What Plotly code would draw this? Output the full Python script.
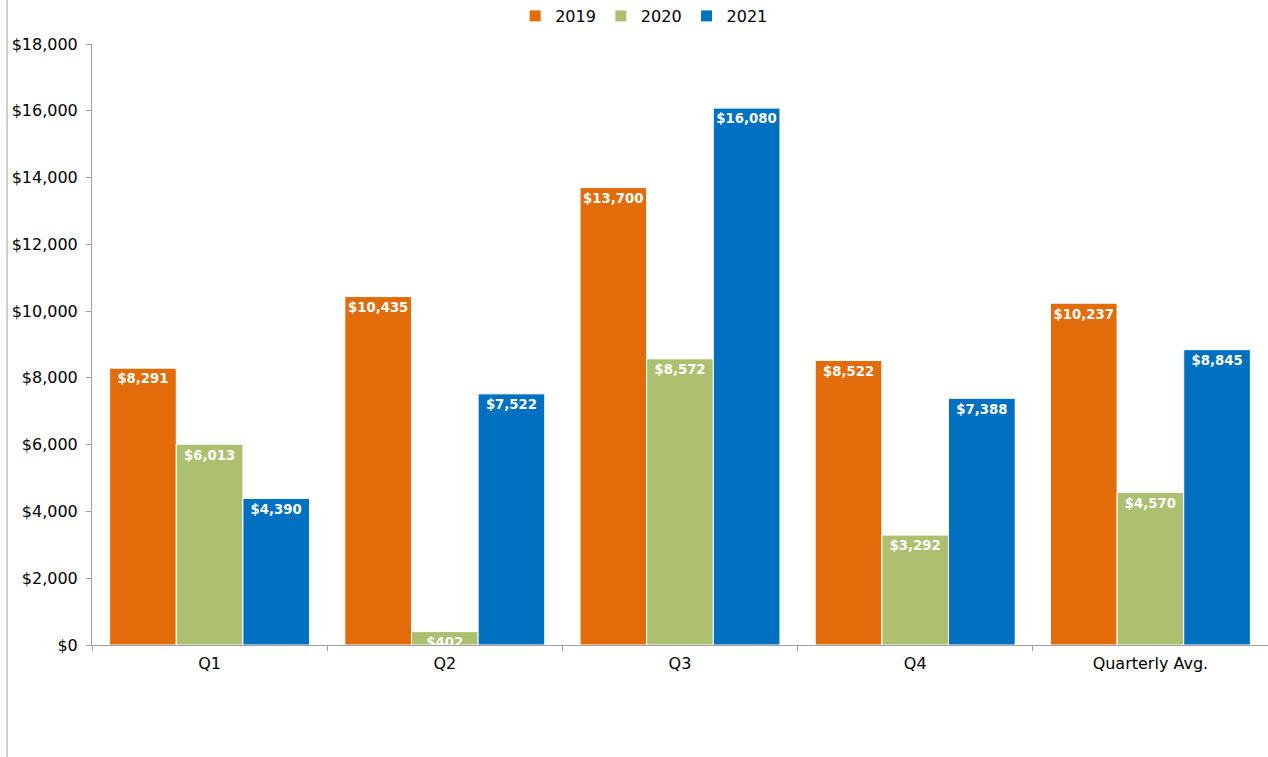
import plotly.graph_objects as go

categories = ["Q1", "Q2", "Q3", "Q4", "Quarterly Avg."]
years = ["2019", "2020", "2021"]
values_2019 = [8291, 10435, 13700, 8522, 10237]
values_2020 = [6013, 402, 8572, 3292, 4570]
values_2021 = [4390, 7522, 16080, 7388, 8845]
colors = ["#E36C0A", "#ADC06F", "#0070C0"]

series = [values_2019, values_2020, values_2021]

fig = go.Figure()
for name, vals, col in zip(years, series, colors):
    fig.add_trace(go.Bar(
        x=categories, y=vals, name=name,
        marker=dict(color=col, line=dict(color="white", width=1)),
        text=[f"${v:,}" for v in vals],
        textposition="inside", insidetextanchor="end", textangle=0,
        textfont=dict(color="white", size=14, family="DejaVu Sans"),
        texttemplate="<b>%{text}</b>",
    ))

fig.update_layout(
    width=1268, height=757,
    margin=dict(l=92, r=0, t=44, b=112, autoexpand=False),
    paper_bgcolor="white", plot_bgcolor="white",
    barmode="group", bargap=0.15, bargroupgap=0.0,
    font=dict(family="DejaVu Sans", size=16, color="#000"),
    uniformtext=dict(minsize=13, mode="show"),
    legend=dict(orientation="h", x=0.508, xanchor="center", xref="container",
                y=1 - 16 / 757, yanchor="middle", yref="container",
                font=dict(size=16), itemwidth=30, tracegroupgap=0),
    xaxis=dict(showline=True, linecolor="#A0A0A0", linewidth=1, ticks="outside",
               tickson="boundaries", ticklen=5, tickcolor="#A0A0A0", showgrid=False,
               tickfont=dict(size=16), automargin=False, ticklabelstandoff=4),
    yaxis=dict(range=[0, 18000], dtick=2000, tickformat="$,.0f", showline=True,
               linecolor="#A0A0A0", linewidth=1, ticks="outside", ticklen=5,
               tickcolor="#A0A0A0", showgrid=False, zeroline=False,
               tickfont=dict(size=16), automargin=False, ticklabelstandoff=5),
    shapes=[dict(type="line", xref="paper", yref="paper",
                 x0=(7 - 92) / 1176, x1=(7 - 92) / 1176, y0=-112 / 601, y1=44 / 601 + 1,
                 line=dict(color="#A0A0A0", width=1))],
)

fig.write_html("out.html", config={"displayModeBar": False},
               post_script="document.body.style.margin='0';")
